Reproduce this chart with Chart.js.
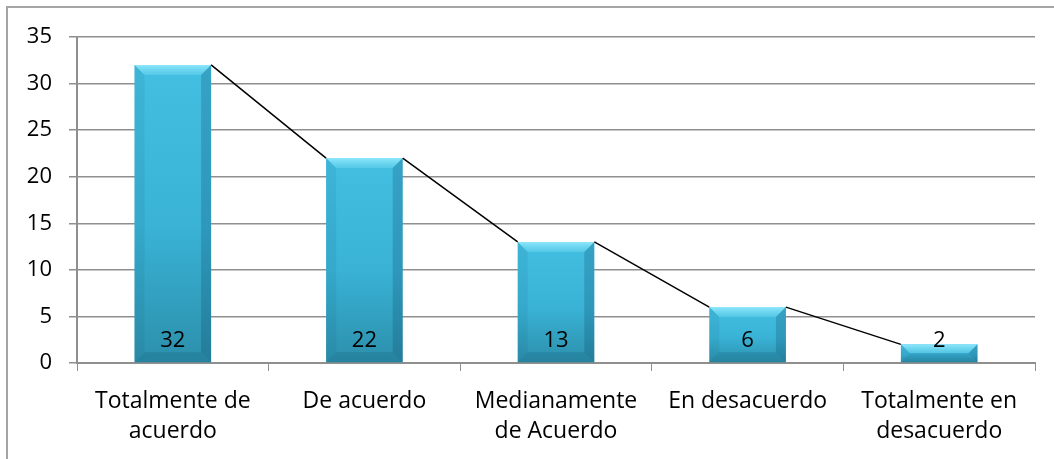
<!DOCTYPE html>
<html>
<head>
<meta charset="utf-8">
<script src="https://cdn.jsdelivr.net/npm/chart.js@4"></script>
<style>
  html, body { margin: 0; padding: 0; background: #fff; }
  #wrap { position: relative; width: 1054px; height: 459px; }
  #frame {
    position: absolute; left: 6px; top: 6px; right: 0; bottom: 0;
    border-top: 2px solid #a5a5a5; border-left: 2px solid #a5a5a5;
    pointer-events: none;
  }
  canvas { position: absolute; left: 0; top: 0; }
</style>
</head>
<body>
<div id="wrap">
  <canvas id="chart" width="1054" height="459"></canvas>
  <div id="frame"></div>
</div>
<script>
const categories = [
  ['Totalmente de', 'acuerdo'],
  'De acuerdo',
  ['Medianamente', 'de Acuerdo'],
  'En desacuerdo',
  ['Totalmente en', 'desacuerdo']
];
const values = [32, 22, 13, 6, 2];
const yTicks = { min: 0, max: 35, step: 5 };

const FONT = "'Open Sans', Lato, sans-serif";
const GRID = '#8f8f8f';

// gradient fill for each bar, built from the y scale
function barFill(ctx) {
  const chart = ctx.chart;
  const y = chart.scales && chart.scales.y;
  if (!y) return '#39b4d7';
  const top = y.getPixelForValue(values[ctx.dataIndex]);
  const base = y.getPixelForValue(0);
  if (!isFinite(top) || !isFinite(base) || top === base) return '#39b4d7';
  const g = chart.ctx.createLinearGradient(0, top, 0, base);
  g.addColorStop(0, '#43bfe2');
  g.addColorStop(0.55, '#39b2d5');
  g.addColorStop(1, '#2c8fab');
  return g;
}

// bevel highlight / shade on top of the bars
const bevelPlugin = {
  id: 'bevel',
  afterDatasetsDraw(chart) {
    const ctx = chart.ctx;
    chart.getDatasetMeta(0).data.forEach(bar => {
      const x0 = bar.x - bar.width / 2, x1 = bar.x + bar.width / 2;
      const y0 = bar.y, y1 = bar.base;
      const b = Math.min(10, (y1 - y0) / 2);
      ctx.save();
      // top facet
      let g = ctx.createLinearGradient(0, y0, 0, y0 + b);
      g.addColorStop(0, 'rgba(150,235,255,0.9)');
      g.addColorStop(1, 'rgba(110,215,240,0.45)');
      ctx.fillStyle = g;
      ctx.beginPath();
      ctx.moveTo(x0, y0); ctx.lineTo(x1, y0);
      ctx.lineTo(x1 - b, y0 + b); ctx.lineTo(x0 + b, y0 + b);
      ctx.closePath(); ctx.fill();
      // left facet
      ctx.fillStyle = 'rgba(20,90,120,0.10)';
      ctx.beginPath();
      ctx.moveTo(x0, y0); ctx.lineTo(x0 + b, y0 + b);
      ctx.lineTo(x0 + b, y1 - b); ctx.lineTo(x0, y1);
      ctx.closePath(); ctx.fill();
      // right facet
      ctx.fillStyle = 'rgba(10,60,90,0.22)';
      ctx.beginPath();
      ctx.moveTo(x1, y0); ctx.lineTo(x1 - b, y0 + b);
      ctx.lineTo(x1 - b, y1 - b); ctx.lineTo(x1, y1);
      ctx.closePath(); ctx.fill();
      // bottom facet
      ctx.fillStyle = 'rgba(10,60,90,0.15)';
      ctx.beginPath();
      ctx.moveTo(x0, y1); ctx.lineTo(x0 + b, y1 - b);
      ctx.lineTo(x1 - b, y1 - b); ctx.lineTo(x1, y1);
      ctx.closePath(); ctx.fill();
      ctx.restore();
    });
  }
};

// excel style series lines: right top corner of a bar to left top corner of next
const seriesLinePlugin = {
  id: 'seriesLines',
  afterDatasetsDraw(chart) {
    const ctx = chart.ctx;
    const bars = chart.getDatasetMeta(0).data;
    ctx.save();
    ctx.strokeStyle = '#000';
    ctx.lineWidth = 1.5;
    ctx.beginPath();
    for (let i = 0; i < bars.length - 1; i++) {
      const a = bars[i], b = bars[i + 1];
      ctx.moveTo(a.x + a.width / 2, a.y);
      ctx.lineTo(b.x - b.width / 2, b.y);
    }
    ctx.stroke();
    ctx.restore();
  }
};

// value labels near the bottom of every bar
const valueLabelPlugin = {
  id: 'valueLabels',
  afterDatasetsDraw(chart) {
    const ctx = chart.ctx;
    const yScale = chart.scales.y;
    ctx.save();
    ctx.font = `22px ${FONT}`;
    ctx.fillStyle = '#000';
    ctx.textAlign = 'center';
    ctx.textBaseline = 'middle';
    chart.getDatasetMeta(0).data.forEach((bar, i) => {
      ctx.fillText(String(values[i]), bar.x, yScale.bottom - 22);
    });
    ctx.restore();
  }
};

new Chart(document.getElementById('chart'), {
  type: 'bar',
  data: {
    labels: categories,
    datasets: [{
      data: values,
      backgroundColor: barFill,
      borderWidth: 0,
      categoryPercentage: 1,
      barPercentage: 0.40
    }]
  },
  options: {
    responsive: false,
    animation: false,
    layout: { padding: { top: 37, right: 19, left: 0, bottom: 0 } },
    plugins: {
      legend: { display: false },
      tooltip: { enabled: false }
    },
    scales: {
      x: {
        afterFit: s => { s.height = 96; },
        grid: {
          offset: true,
          drawOnChartArea: false,
          color: GRID,
          tickLength: 8
        },
        border: { color: GRID, width: 2 },
        ticks: {
          color: '#000',
          font: { family: FONT, size: 23, lineHeight: 1.3 },
          padding: 16,
          maxRotation: 0,
          autoSkip: false
        }
      },
      y: {
        min: yTicks.min,
        max: yTicks.max,
        afterFit: s => { s.width = 77; },
        grid: { color: GRID, lineWidth: 1.5, tickLength: 8 },
        border: { color: GRID, width: 2 },
        ticks: {
          stepSize: yTicks.step,
          color: '#000',
          font: { family: FONT, size: 22 },
          padding: 17
        }
      }
    }
  },
  plugins: [bevelPlugin, seriesLinePlugin, valueLabelPlugin]
});
</script>
</body>
</html>
